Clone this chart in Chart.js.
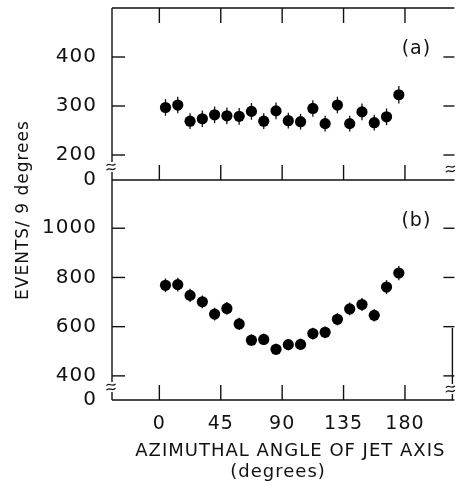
<!DOCTYPE html>
<html><head><meta charset="utf-8">
<script src="https://cdn.jsdelivr.net/npm/chart.js@4.4.1/dist/chart.umd.min.js"></script>
<style>
html,body{margin:0;padding:0;background:#fff;}
#wrap{position:relative;width:459px;height:493px;overflow:hidden;}
.box{position:absolute;left:0;top:0;width:459px;height:493px;}
</style></head><body>
<div id="wrap"><div class="box"><canvas id="cb"></canvas></div><div class="box"><canvas id="ca"></canvas></div></div>
<script>
// ---- data ----
const angles   = [4.5, 13.5, 22.5, 31.5, 40.5, 49.5, 58.5, 67.5, 76.5, 85.5, 94.5, 103.5, 112.5, 121.5, 130.5, 139.5, 148.5, 157.5, 166.5, 175.5];
const eventsA  = [297, 302, 269, 274, 282, 280, 279, 289, 269, 290, 270, 268, 295, 264, 302, 264, 288, 266, 278, 323];
const errorsA  = [17, 17, 16, 17, 17, 17, 17, 17, 16, 17, 16, 16, 17, 16, 17, 16, 17, 16, 17, 18];
const eventsB  = [768, 771, 727, 701, 651, 674, 611, 545, 548, 508, 527, 528, 572, 577, 630, 672, 690, 646, 761, 818];
const errorsB  = [28, 28, 27, 26, 26, 26, 25, 23, 23, 23, 23, 23, 24, 24, 25, 26, 26, 25, 28, 29];
const xTicks   = [0, 45, 90, 135, 180];
const yTicksA  = [200, 300, 400];
const yTicksB  = [400, 600, 800, 1000];
const panelLabels = ['(a)', '(b)'];
const yTitle   = 'EVENTS/ 9 degrees';
const xTitle   = ['AZIMUTHAL ANGLE OF JET AXIS', '(degrees)'];

const INK = '#111';
const FONT = "'DejaVu Sans', sans-serif";

function pts(ys) { return angles.map((a, i) => ({x: a, y: ys[i]})); }

function breakMark(ctx, x, y) {
  ctx.save();
  ctx.fillStyle = '#fff';
  ctx.fillRect(x - 3, y - 5, 6, 10);
  ctx.strokeStyle = INK;
  ctx.lineWidth = 1.2;
  for (const d of [-2.2, 2.2]) {
    ctx.beginPath();
    ctx.moveTo(x - 4.5, y + d + 1);
    ctx.bezierCurveTo(x - 2, y + d - 3, x + 1, y + d + 3, x + 4.5, y + d - 1);
    ctx.stroke();
  }
  ctx.restore();
}

const framePlugin = {
  id: 'frame',
  beforeDraw(chart) {
    if ('letterSpacing' in chart.ctx) chart.ctx.letterSpacing = '1px';
  },
  beforeDatasetsDraw(chart, args, opts) {
    const ctx = chart.ctx, xs = chart.scales.x, ys = chart.scales.y;
    const vals = opts.values, errs = opts.errors;
    ctx.save();
    ctx.strokeStyle = INK;
    ctx.lineWidth = 1.3;
    angles.forEach((a, i) => {
      const px = xs.getPixelForValue(a);
      ctx.beginPath();
      ctx.moveTo(px, ys.getPixelForValue(vals[i] - errs[i]));
      ctx.lineTo(px, ys.getPixelForValue(vals[i] + errs[i]));
      ctx.stroke();
    });
    ctx.restore();
  },
  afterDraw(chart, args, opts) {
    const ctx = chart.ctx, xs = chart.scales.x, ys = chart.scales.y;
    const {left, right, top, bottom} = chart.chartArea;
    ctx.save();
    ctx.strokeStyle = INK;
    ctx.lineWidth = 1.4;
    const line = (x1, y1, x2, y2) => { ctx.beginPath(); ctx.moveTo(x1, y1); ctx.lineTo(x2, y2); ctx.stroke(); };
    // frame
    line(left, top, left, bottom);
    line(left, bottom, right + 1, bottom);
    if (opts.panel === 'a') {
      line(left, top, right + 1, top);
    } else {
      line(right - 1, bottom - 72, right - 1, bottom);
    }
    // x ticks (inward)
    xTicks.forEach(v => {
      const px = xs.getPixelForValue(v);
      line(px, bottom, px, bottom - 15);
      if (opts.panel === 'a') line(px, top, px, top + 15);
    });
    // y ticks (inward, both sides)
    opts.yTicks.forEach(v => {
      const py = ys.getPixelForValue(v);
      line(left, py, left + 13, py);
      line(right - 10, py, right + 1, py);
    });
    // axis breaks
    breakMark(ctx, left - 1, bottom - 13);
    breakMark(ctx, right - 3, bottom - 11);
    // panel label
    ctx.fillStyle = INK;
    ctx.font = '19px ' + FONT;
    ctx.textAlign = 'center';
    ctx.textBaseline = 'middle';
    ctx.fillText(opts.label, right - 37, top + 41);
    if (opts.panel === 'b') {
      // x title (two lines)
      ctx.font = '18px ' + FONT;
      ctx.fillText(xTitle[0], xs.getPixelForValue(96), bottom + 51);
      ctx.fillText(xTitle[1], xs.getPixelForValue(87), bottom + 72);
      // shared y title
      ctx.save();
      ctx.translate(28, 210);
      ctx.rotate(-Math.PI / 2);
      ctx.font = '17px ' + FONT;
      ctx.textAlign = 'center';
      ctx.textBaseline = 'alphabetic';
      ctx.fillText(yTitle, 0, 0);
      ctx.restore();
    }
    ctx.restore();
  }
};

function yAxis(min, max, ticks) {
  return {
    type: 'linear', min: min, max: max,
    grid: {display: false, drawTicks: false},
    border: {display: false},
    afterBuildTicks(s) { s.ticks = [{value: min}].concat(ticks.map(v => ({value: v}))); },
    afterFit(s) { s.width = 112; s.paddingTop = 0; s.paddingBottom = 0; },
    ticks: {
      padding: 15, color: INK,
      font: {family: FONT, size: 20},
      callback(v) { return v === min ? '0' : String(v); }
    }
  };
}

function makeChart(id, panel, values, errors, yMin, yMax, yTicks, label, padding, showX) {
  return new Chart(document.getElementById(id), {
    type: 'scatter',
    data: {datasets: [{
      data: pts(values),
      pointRadius: 5.6, pointHoverRadius: 5.6,
      pointBackgroundColor: '#000', pointBorderWidth: 0, borderWidth: 0
    }]},
    options: {
      responsive: true, maintainAspectRatio: false, animation: false, events: [],
      layout: {padding: padding},
      plugins: {
        legend: {display: false}, tooltip: {enabled: false},
        frame: {panel: panel, values: values, errors: errors, yTicks: yTicks, label: label}
      },
      scales: {
        x: {
          type: 'linear', min: -34.7, max: 215.5, display: showX,
          grid: {display: false, drawTicks: false},
          border: {display: false},
          afterBuildTicks(s) { s.ticks = xTicks.map(v => ({value: v})); },
          afterFit(s) {
            s.height = s.options.display ? 93 : 0;
            s.paddingLeft = 0; s.paddingRight = 0;
          },
          ticks: {padding: 13, color: INK, font: {family: FONT, size: 19}, maxRotation: 0},
          title: {display: false}
        },
        y: yAxis(yMin, yMax, yTicks)
      }
    },
    plugins: [framePlugin]
  });
}

makeChart('cb', 'b', eventsB, errorsB, 302, 1196, yTicksB, panelLabels[1], {top: 180, bottom: 0, left: 0, right: 1}, true);
makeChart('ca', 'a', eventsA, errorsA, 149, 500, yTicksA, panelLabels[0], {top: 8, bottom: 313, left: 0, right: 1}, false);
</script>
</body></html>
